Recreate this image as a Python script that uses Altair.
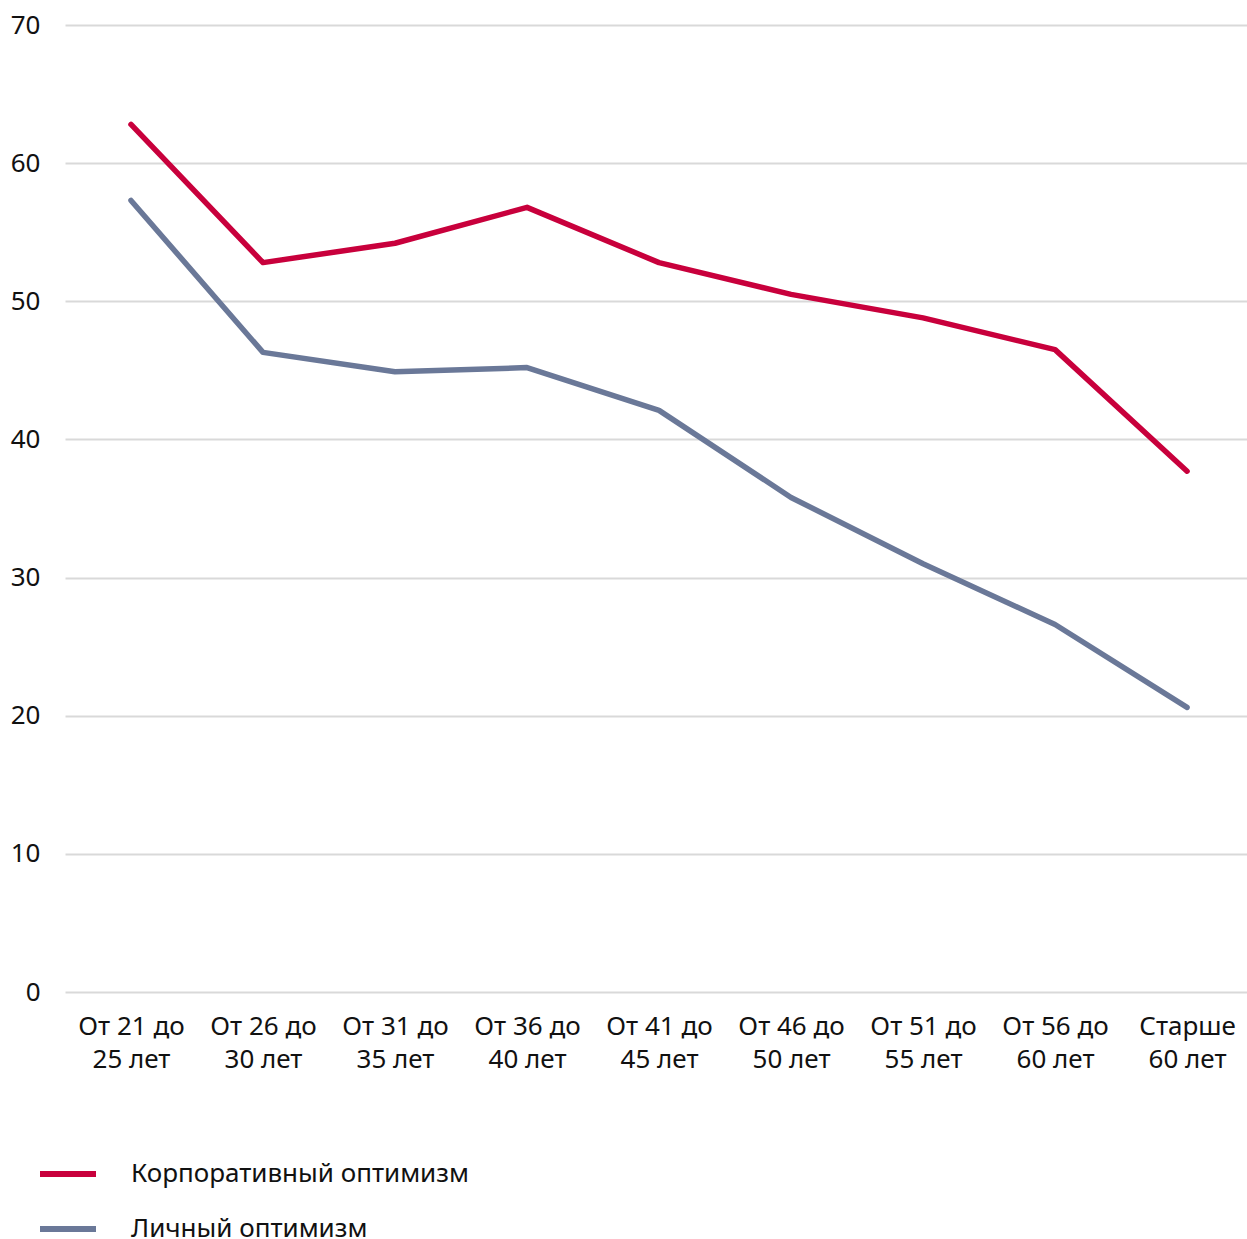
import altair as alt
import pandas as pd

categories = ["От 21 до\n25 лет", "От 26 до\n30 лет", "От 31 до\n35 лет", "От 36 до\n40 лет",
              "От 41 до\n45 лет", "От 46 до\n50 лет", "От 51 до\n55 лет", "От 56 до\n60 лет",
              "Старше\n60 лет"]
corporate = [62.8, 52.8, 54.2, 56.8, 52.8, 50.5, 48.8, 46.5, 37.7]
personal = [57.3, 46.3, 44.9, 45.2, 42.1, 35.8, 31.0, 26.6, 20.6]
series_names = ["Корпоративный оптимизм", "Личный оптимизм"]
colors = ["#C8003C", "#6A7898"]

rows = []
for name, vals in zip(series_names, [corporate, personal]):
    for i, (c, v) in enumerate(zip(categories, vals)):
        rows.append({"cat": c, "idx": i, "value": v, "series": name})
df = pd.DataFrame(rows)

FONT = "Noto Sans"

chart = alt.Chart(df).mark_line(strokeWidth=5.5, strokeCap="round", strokeJoin="round").encode(
    x=alt.X("cat:N", sort=categories, title=None,
            scale=alt.Scale(type="point", padding=0.477, align=0.524),
            axis=alt.Axis(labelAngle=0, domain=False, ticks=False, grid=False,
                          labelFontSize=26, labelColor="#111111", labelFont=FONT,
                          labelPadding=21, labelLineHeight=33, labelBaseline="top",
                          labelExpr="split(datum.label, '\\n')")),
    y=alt.Y("value:Q", title=None,
            scale=alt.Scale(domain=[0, 70], nice=False),
            axis=alt.Axis(values=[0, 10, 20, 30, 40, 50, 60, 70], domain=False, ticks=False,
                          gridColor="#D9D9D9", gridWidth=2,
                          labelFontSize=26, labelColor="#111111", labelFont=FONT,
                          labelPadding=25)),
    color=alt.Color("series:N", sort=series_names, title=None,
                    scale=alt.Scale(domain=series_names, range=colors),
                    legend=alt.Legend(orient="none", legendX=-28, legendY=1118,
                                      symbolType="stroke", symbolSize=3136, symbolStrokeWidth=6,
                                      labelFontSize=26, labelFont=FONT, labelColor="#111111",
                                      labelOffset=32, labelLimit=0, rowPadding=11,
                                      direction="vertical")),
    order="idx:Q",
).properties(
    width=1182, height=967,
    padding={"left": 65, "top": 25, "right": 0, "bottom": 247},
    autosize=alt.AutoSizeParams(type="none"),
).configure_view(stroke=None)

chart.save("out.html", embed_options={"renderer": "svg", "actions": False})
